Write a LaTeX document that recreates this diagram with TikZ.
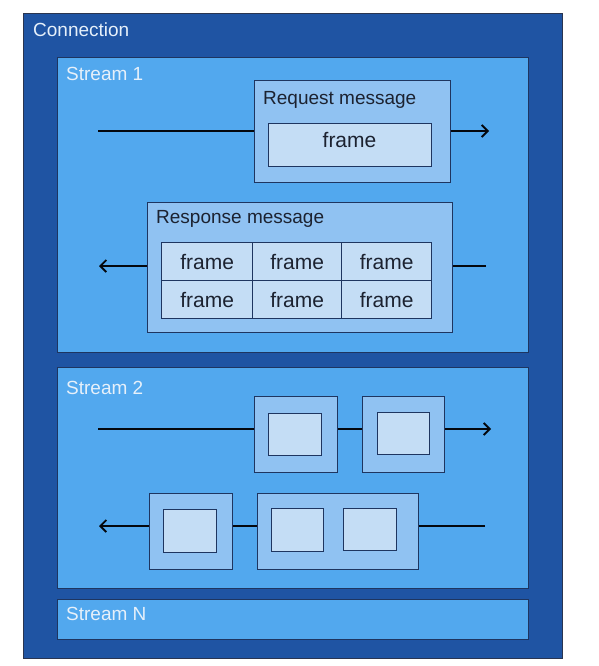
\documentclass[tikz,border=0pt]{standalone}
\usepackage{fontspec}
\setmainfont{Liberation Sans}
\usetikzlibrary{arrows.meta}
\definecolor{connfill}{HTML}{1F54A3}
\definecolor{connline}{HTML}{2A3550}
\definecolor{streamfill}{HTML}{52A8EE}
\definecolor{msgfill}{HTML}{90C2F2}
\definecolor{framefill}{HTML}{C4DDF5}
\definecolor{edge}{HTML}{1E3560}
\definecolor{lighttext}{HTML}{E6F0FA}
\definecolor{darktext}{HTML}{1C2230}
\tikzset{
  connbox/.style={draw=connline, fill=connfill, line width=1pt, inner sep=0pt, anchor=north west},
  streambox/.style={draw=edge, fill=streamfill, line width=1.2pt, inner sep=0pt, anchor=north west},
  msgbox/.style={draw=edge, fill=msgfill, line width=1.2pt, inner sep=0pt, anchor=north west},
  framebox/.style={draw=edge, fill=framefill, line width=1.2pt, inner sep=0pt, anchor=north west},
  cellbox/.style={draw=edge, fill=framefill, line width=1.2pt, inner sep=0pt, minimum height=38pt,
    anchor=north west, text=darktext, font=\fontsize{21}{24}\selectfont},
  lbl/.style={inner sep=0pt, anchor=base west, text=lighttext, font=\fontsize{19}{22}\selectfont},
  msglbl/.style={inner sep=0pt, anchor=base west, text=darktext, font=\fontsize{19}{22}\selectfont},
  framelbl/.style={inner sep=0pt, anchor=base, text=darktext, font=\fontsize{21}{24}\selectfont},
  flow/.style={draw=black!85!edge, line width=1.8pt},
  flowarrow/.style={flow, -{Straight Barb[length=6pt,width=12pt,line width=1.8pt]}}
}
\begin{document}
\begin{tikzpicture}[x=1pt,y=-1pt]
\useasboundingbox[fill=white] (0,0) rectangle (599,666);
% connection
\node[connbox, minimum width=539pt, minimum height=645pt] (conn) at (23,13) {};
\node[lbl] (lconn) at (33,37) {Connection};
% streams
\node[streambox, minimum width=471pt, minimum height=295pt] (s1) at (57,57) {};
\node[lbl] (ls1) at (66,81) {Stream 1};
\node[streambox, minimum width=471pt, minimum height=221pt] (s2) at (57,367) {};
\node[lbl] (ls2) at (66,394) {Stream 2};
\node[streambox, minimum width=471pt, minimum height=40pt] (sn) at (57,599) {};
\node[lbl] (lsn) at (66,620) {Stream N};
% stream 1: request
\node[msgbox, minimum width=196pt, minimum height=102pt] (req) at (254,80) {};
\node[msglbl] (lreq) at (263,105) {Request message};
\node[framebox, minimum width=163pt, minimum height=43pt] (reqf) at (268,123) {};
\node[framelbl] (lreqf) at (349.5,147) {frame};
\coordinate (reqin) at (98,131);
\coordinate (reqout) at (489,131);
\draw[flow] (reqin) -- (reqin -| req.west);
\draw[flowarrow] (req.east |- reqout) -- (reqout);
% stream 1: response
\node[msgbox, minimum width=305pt, minimum height=130pt] (resp) at (147,202) {};
\node[msglbl] (lresp) at (156,223) {Response message};
\node[cellbox, minimum width=91pt] (c11) at (161,242) {frame};
\node[cellbox, minimum width=89pt] (c12) at (252,242) {frame};
\node[cellbox, minimum width=90pt] (c13) at (341,242) {frame};
\node[cellbox, minimum width=91pt] (c21) at (161,280) {frame};
\node[cellbox, minimum width=89pt] (c22) at (252,280) {frame};
\node[cellbox, minimum width=90pt] (c23) at (341,280) {frame};
\coordinate (respin) at (486,266);
\coordinate (respout) at (99,266);
\draw[flow] (respin) -- (respin -| resp.east);
\draw[flowarrow] (resp.west |- respout) -- (respout);
% stream 2: top row
\node[msgbox, minimum width=83pt, minimum height=76pt] (ma) at (254,396) {};
\node[framebox, minimum width=53pt, minimum height=42pt] (fa) at (268,413) {};
\node[msgbox, minimum width=82pt, minimum height=76pt] (mb) at (362,396) {};
\node[framebox, minimum width=52pt, minimum height=42pt] (fb) at (377,412) {};
\coordinate (tin) at (98,429);
\coordinate (tout) at (491,429);
\draw[flow] (tin) -- (tin -| ma.west);
\draw[flow] (ma.east |- tin) -- (mb.west |- tin);
\draw[flowarrow] (mb.east |- tout) -- (tout);
% stream 2: bottom row
\node[msgbox, minimum width=83pt, minimum height=76pt] (mc) at (149,493) {};
\node[framebox, minimum width=53pt, minimum height=43pt] (fc) at (163,509) {};
\node[msgbox, minimum width=161pt, minimum height=76pt] (md) at (257,493) {};
\node[framebox, minimum width=52pt, minimum height=43pt] (fd1) at (271,508) {};
\node[framebox, minimum width=53pt, minimum height=42pt] (fd2) at (343,508) {};
\coordinate (bin) at (485,526);
\coordinate (bout) at (99,526);
\draw[flow] (bin) -- (bin -| md.east);
\draw[flow] (md.west |- bin) -- (mc.east |- bin);
\draw[flowarrow] (mc.west |- bout) -- (bout);
\end{tikzpicture}
\end{document}
